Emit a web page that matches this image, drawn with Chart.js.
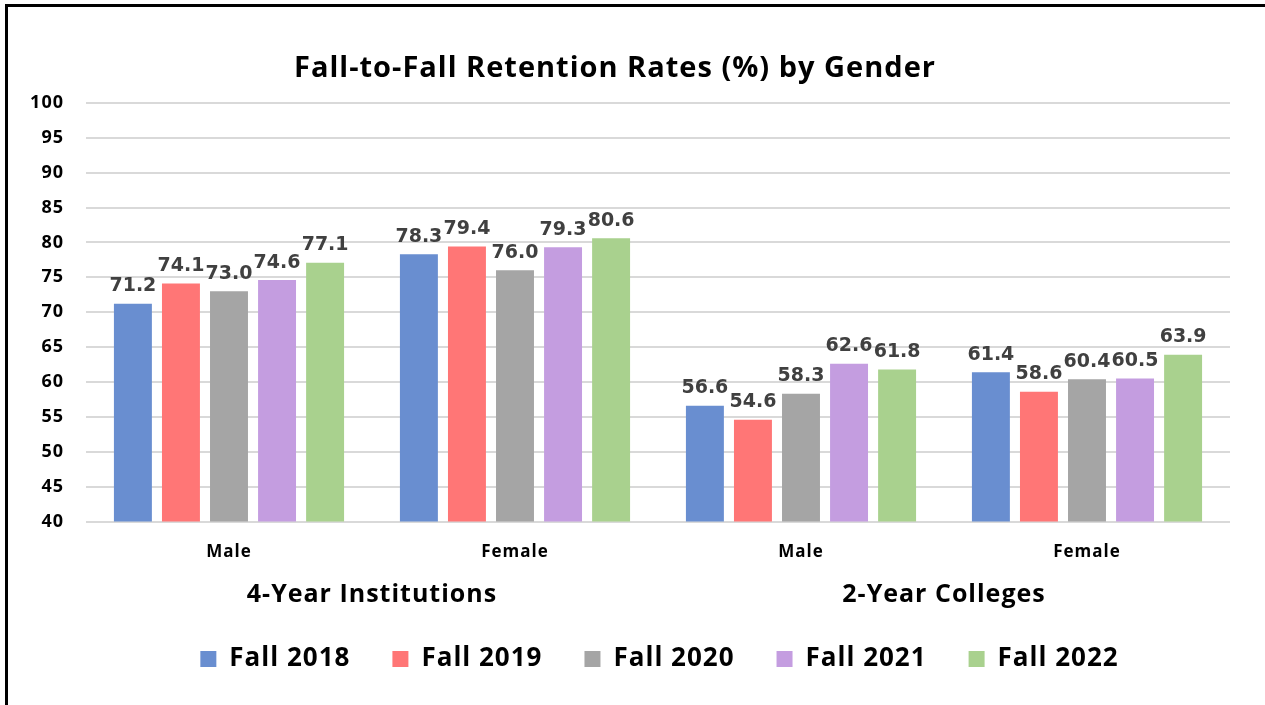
<!DOCTYPE html>
<html><head><meta charset="utf-8">
<script src="https://cdn.jsdelivr.net/npm/chart.js@4.4.0/dist/chart.umd.min.js"></script>
<style>
html,body{margin:0;padding:0;background:#fff;}
#wrap{position:relative;width:1265px;height:705px;}
#frame{position:absolute;left:5px;top:4px;right:0;bottom:0;border-left:3px solid #000;border-top:3px solid #000;pointer-events:none;}
canvas{position:absolute;left:0;top:0;}
</style></head>
<body>
<div id="wrap"><canvas id="c" width="1265" height="705"></canvas><div id="frame"></div></div>
<script>
const categories = ["Male", "Female", "Male", "Female"];
const groupLabels = ["4-Year Institutions", "2-Year Colleges"];
const seriesNames = ["Fall 2018", "Fall 2019", "Fall 2020", "Fall 2021", "Fall 2022"];
const fall2018 = [71.2, 78.3, 56.6, 61.4];
const fall2019 = [74.1, 79.4, 54.6, 58.6];
const fall2020 = [73.0, 76.0, 58.3, 60.4];
const fall2021 = [74.6, 79.3, 62.6, 60.5];
const fall2022 = [77.1, 80.6, 61.8, 63.9];
const yTicks = [40, 45, 50, 55, 60, 65, 70, 75, 80, 85, 90, 95, 100];
const colors = ["#698ED0", "#FF7676", "#A5A5A5", "#C49DE0", "#A9D18E"];

const seriesValues = [fall2018, fall2019, fall2020, fall2021, fall2022];
const FONT = '"Open Sans", Lato, sans-serif';

const textSpacing = {
  id: 'textSpacing',
  beforeDraw(chart) { chart.ctx.letterSpacing = '1px'; },
  afterDraw(chart) { chart.ctx.letterSpacing = '0px'; }
};

const legendShift = {
  id: 'legendShift',
  afterLayout(chart) {
    const lg = chart.legend;
    if (!lg) return;
    lg.top -= 4; lg.bottom -= 4;
    lg.left += 22; lg.right += 22;
  }
};

const valueLabels = {
  id: 'valueLabels',
  afterDatasetsDraw(chart) {
    const ctx = chart.ctx;
    ctx.save();
    ctx.letterSpacing = '0px';
    ctx.font = 'bold 19px "DejaVu Sans", Verdana, sans-serif';
    ctx.fillStyle = '#404040';
    ctx.textAlign = 'center';
    ctx.textBaseline = 'bottom';
    chart.data.datasets.forEach((ds, i) => {
      const meta = chart.getDatasetMeta(i);
      meta.data.forEach((bar, j) => {
        ctx.fillText(ds.data[j].toFixed(1), bar.x, bar.y - 8);
      });
    });
    ctx.restore();
  }
};

new Chart(document.getElementById('c'), {
  type: 'bar',
  data: {
    labels: categories,
    datasets: seriesNames.map((n, i) => ({
      label: n,
      data: seriesValues[i],
      backgroundColor: colors[i],
      borderWidth: 0,
      categoryPercentage: 0.84,
      barPercentage: 0.79
    }))
  },
  options: {
    responsive: false,
    animation: false,
    layout: { padding: { top: 43, right: 35, left: 0, bottom: 19 } },
    plugins: {
      title: {
        display: true,
        text: 'Fall-to-Fall Retention Rates (%) by Gender',
        color: '#000',
        font: { family: FONT, size: 29, weight: 'bold' },
        padding: { top: 8, bottom: 17 }
      },
      legend: {
        position: 'bottom',
        labels: {
          color: '#000',
          font: { family: FONT, size: 26, weight: 'bold' },
          boxWidth: 16, boxHeight: 16, padding: 42
        }
      },
      tooltip: { enabled: false }
    },
    scales: {
      y: {
        min: 40, max: 100,
        afterBuildTicks(s) { s.ticks = yTicks.map(v => ({ value: v })); },
        afterFit(s) { s.width = 86; },
        border: { display: false },
        grid: { color: '#D9D9D9', lineWidth: 2, drawTicks: false },
        ticks: { color: '#000', padding: 22, font: { family: FONT, size: 18, weight: 'bold' } }
      },
      x: {
        border: { display: false },
        grid: { display: false, drawTicks: false },
        ticks: { color: '#000', padding: 20, font: { family: FONT, size: 17, weight: 'bold' } }
      },
      x2: {
        type: 'category',
        labels: groupLabels,
        position: 'bottom',
        border: { display: false },
        grid: { display: false, drawTicks: false },
        ticks: { color: '#000', padding: -2, font: { family: FONT, size: 25, weight: 'bold' } }
      }
    }
  },
  plugins: [textSpacing, legendShift, valueLabels]
});
</script>
</body></html>
